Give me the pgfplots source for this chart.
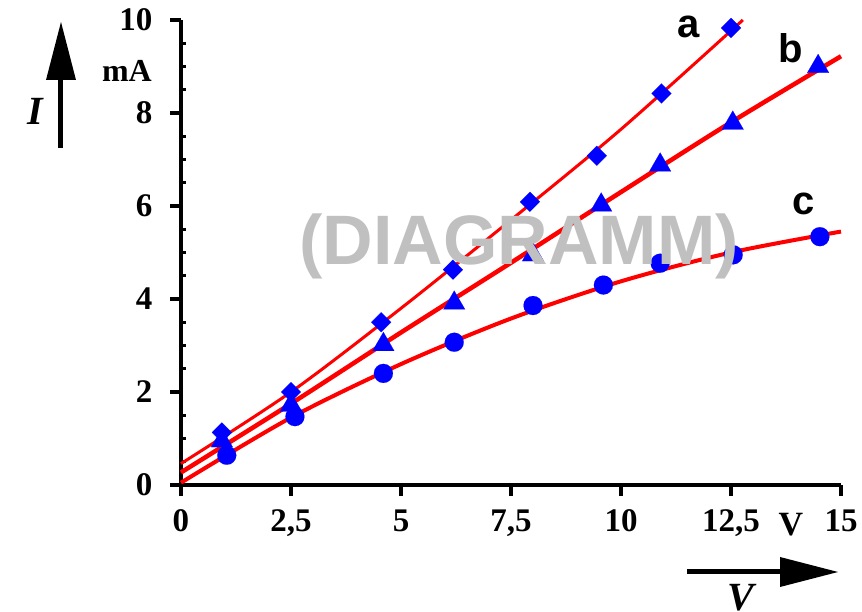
\documentclass[border=0pt]{standalone}
\usepackage{fontspec}
\setmainfont{Liberation Serif}
\newfontfamily\arialfont{Liberation Sans}
\usepackage{pgfplots}
\pgfplotsset{compat=1.18}
\definecolor{mred}{RGB}{255,0,0}
\definecolor{mblue}{RGB}{0,0,255}
\definecolor{wm}{RGB}{192,192,192}
\begin{document}
\begin{tikzpicture}
\path[use as bounding box] (-181pt,-127pt) rectangle (681pt,485pt);
\begin{axis}[
  scale only axis, width=660pt, height=465pt,
  xmin=0, xmax=15, ymin=0, ymax=10,
  axis lines=left,
  axis line style={-, line width=4pt},
  xtick={0,2.5,5,7.5,10,12.5,15},
  xticklabels={0,{2,5},5,{7,5},10,{12,5},15},
  ytick={0,2,4,6,8,10},
  yticklabels={0,2,4,6,8,10},
  minor y tick num=3,
  tick align=outside,
  major tick length=11pt,
  minor tick length=-5pt,
  tick style={line width=4pt, black},
  minor tick style={line width=3pt, black},
  ticklabel style={font=\bfseries\fontsize{33}{34}\selectfont},
  xticklabel style={yshift=-10pt},
  yticklabel style={xshift=-14pt},
  clip=false,
]
% fitted curves
\addplot[mred, line width=3pt, smooth] coordinates {
  (0,0.46) (2.5,2.0) (5,3.8) (7.5,5.7) (10,7.65) (12.77,10.0)};
\addplot[mred, line width=4.5pt, smooth] coordinates {
  (0,0.27) (2.5,1.75) (5,3.28) (7.5,4.78) (10,6.3) (12.5,7.8) (15,9.22)};
\addplot[mred, line width=4pt, smooth] coordinates {
  (0,0.05) (2.5,1.45) (5,2.6) (7.5,3.58) (10,4.38) (12.5,5.0) (15,5.45)};
% measured points
\addplot[only marks, mark=*, mark size=9.5pt, mark options={fill=mblue, draw=mblue, line width=0.1pt}] coordinates {
  (1.04,0.64) (2.59,1.47) (4.6,2.40) (6.21,3.07) (8.0,3.86) (9.6,4.30) (10.89,4.77) (12.55,4.95) (14.52,5.34)};
\addplot[only marks, mark=triangle*, mark size=12.5pt, mark options={fill=mblue, draw=mblue, line width=0.1pt}] coordinates {
  (0.93,0.95) (2.5,1.72) (4.6,3.02) (6.21,3.91) (8.0,4.95) (9.55,6.02) (10.89,6.88) (12.54,7.78) (14.48,9.0)};
\addplot[only marks, mark=square*, mark size=7pt, mark options={rotate=45, fill=mblue, draw=mblue, line width=0.1pt}] coordinates {
  (0.93,1.13) (2.5,2.0) (4.55,3.5) (6.18,4.63) (7.93,6.09) (9.45,7.08) (10.92,8.42) (12.5,9.83)};
\end{axis}
% curve labels
\node[anchor=base, font=\arialfont\bfseries\fontsize{40}{40}\selectfont] at (508pt,447pt) {a};
\node[anchor=base, font=\arialfont\bfseries\fontsize{40}{40}\selectfont] at (610pt,422pt) {b};
\node[anchor=base, font=\arialfont\bfseries\fontsize{40}{40}\selectfont] at (623pt,270pt) {c};
% units
\node[anchor=east, inner sep=0pt] at (-29pt,414pt) {\fontsize{32}{34}\selectfont\bfseries mA};
\node[inner sep=0pt] at (610pt,-40pt) {\fontsize{34}{36}\selectfont\bfseries V};
% axis symbols with arrows
\fill (-122.5pt,337pt) rectangle (-117.5pt,406pt);
\fill (-135pt,405pt) -- (-105pt,405pt) -- (-120pt,463pt) -- cycle;
\node[font=\bfseries\itshape\fontsize{40}{40}\selectfont] at (-146pt,374pt) {I};
\fill (506pt,-89.5pt) rectangle (600pt,-84.5pt);
\fill (599pt,-72pt) -- (599pt,-102pt) -- (657pt,-87pt) -- cycle;
\node[anchor=north, font=\bfseries\itshape\fontsize{40}{40}\selectfont] at (560pt,-96pt) {V};
% watermark
\node[anchor=base, text=wm, font=\arialfont\bfseries\fontsize{70}{70}\selectfont] at (338pt,220pt) {(DIAGRAMM)};
\end{tikzpicture}
\end{document}
